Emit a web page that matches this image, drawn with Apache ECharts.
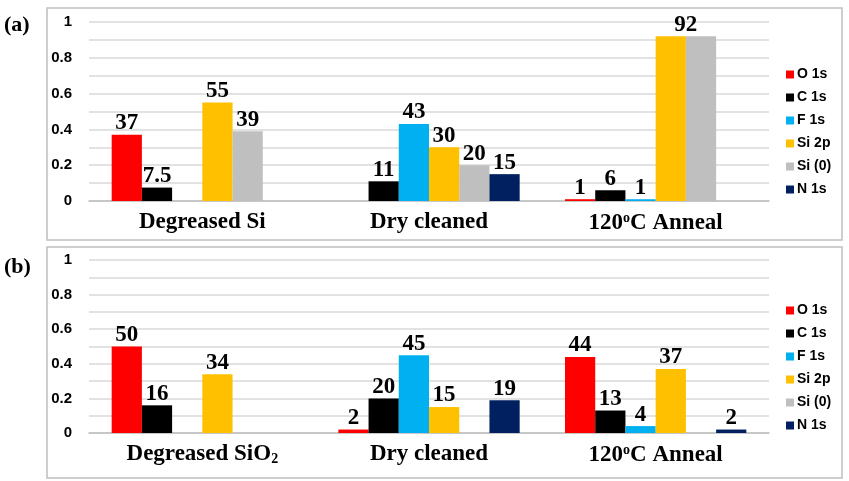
<!DOCTYPE html>
<html>
<head>
<meta charset="utf-8">
<script src="https://cdn.jsdelivr.net/npm/echarts@6/dist/echarts.min.js"></script>
<style>
  html, body { margin: 0; padding: 0; background: #fff; }
  #chart { width: 849px; height: 481px; }
</style>
</head>
<body>
<div id="chart"></div>
<script>
// categories for each panel
var catsA = ['Degreased Si', 'Dry cleaned', '120{sup|o}C Anneal'];
var catsB = ['Degreased SiO{sub|2}', 'Dry cleaned', '120{sup|o}C Anneal'];
var seriesNames = ['O 1s', 'C 1s', 'F 1s', 'Si 2p', 'Si (0)', 'N 1s'];
var seriesColors = ['#FF0000', '#000000', '#00B0F0', '#FFC000', '#BFBFBF', '#002060'];
var yTicks = [0, 0.2, 0.4, 0.6, 0.8, 1];

// atomic percent, one array per element (null = no bar)
var o1sA  = [37, null, 1];
var c1sA  = [7.5, 11, 6];
var f1sA  = [null, 43, 1];
var si2pA = [55, 30, 92];
var si0A  = [39, 20, 92];
var n1sA  = [null, 15, null];

var o1sB  = [50, 2, 44];
var c1sB  = [16, 20, 13];
var f1sB  = [null, 45, 4];
var si2pB = [34, 15, 37];
var si0B  = [null, null, null];
var n1sB  = [null, 19, 2];

var panelA = [o1sA, c1sA, f1sA, si2pA, si0A, n1sA];
var panelB = [o1sB, c1sB, f1sB, si2pB, si0B, n1sB];

var serif = '"Liberation Serif", "Times New Roman", serif';
var sans = '"Liberation Sans", Arial, sans-serif';

function makeSeries(panel, idx) {
    return panel.map(function (vals, i) {
        return {
            name: seriesNames[i],
            type: 'bar',
            xAxisIndex: idx,
            yAxisIndex: idx,
            barGap: '0%',
            barCategoryGap: '20%',
            itemStyle: { color: seriesColors[i] },
            data: vals.map(function (v, j) {
                if (v == null) return '-';
                var d = { value: v / 100 };
                // the two equal 92 bars share one label, centred between them
                if (idx === 0 && j === 2 && i === 3) d.label = { offset: [15, 0] };
                if (idx === 0 && j === 2 && i === 4) d.label = { show: false };
                return d;
            }),
            label: {
                show: true,
                position: 'top',
                distance: 0,
                fontFamily: serif,
                fontWeight: 'bold',
                fontSize: 23,
                color: '#000',
                formatter: function (p) { return String(Math.round(p.value * 1000) / 10); }
            }
        };
    });
}

var catRich = {
    sup: { fontFamily: serif, fontWeight: 'bold', fontSize: 14, color: '#000', padding: [0, 0, 10, 0] },
    sub: { fontFamily: serif, fontWeight: 'bold', fontSize: 14, color: '#000', padding: [9, 0, 0, 0] }
};

function xAxisOpt(idx, cats) {
    return {
        type: 'category',
        gridIndex: idx,
        data: cats,
        axisLine: { lineStyle: { color: '#BFBFBF', width: 1.5 } },
        axisTick: { show: false },
        axisLabel: {
            interval: 0,
            margin: 10,
            fontFamily: serif,
            fontWeight: 'bold',
            fontSize: 23,
            color: '#000',
            rich: catRich
        }
    };
}

function yAxisOpt(idx) {
    return {
        type: 'value',
        gridIndex: idx,
        min: 0,
        max: 1,
        interval: 0.1,
        axisLine: { show: false },
        axisTick: { show: false },
        splitLine: { lineStyle: { color: '#D9D9D9', width: 1.5 } },
        axisLabel: {
            margin: 17,
            fontFamily: sans,
            fontWeight: 'bold',
            fontSize: 15,
            color: '#000',
            formatter: function (v) {
                var r = Math.round(v * 10) / 10;
                return yTicks.indexOf(r) >= 0 ? String(r) : '';
            }
        }
    };
}

function legendOpt(top) {
    return {
        orient: 'vertical',
        left: 781,
        top: top,
        icon: 'rect',
        itemWidth: 8,
        itemHeight: 8,
        itemGap: 8,
        selectedMode: false,
        data: seriesNames,
        textStyle: { fontFamily: sans, fontWeight: 'bold', fontSize: 14, lineHeight: 15, color: '#000', padding: [0, 0, 0, -2] }
    };
}

var chart = echarts.init(document.getElementById('chart'));
chart.setOption({
    animation: false,
    backgroundColor: '#fff',
    graphic: [
        { type: 'rect', shape: { x: 47, y: 8, width: 795, height: 232 }, style: { fill: 'none', stroke: '#BFBFBF', lineWidth: 1.5 } },
        { type: 'rect', shape: { x: 47, y: 247, width: 795, height: 231 }, style: { fill: 'none', stroke: '#BFBFBF', lineWidth: 1.5 } },
        { type: 'text', left: 4, top: 14, style: { text: '(a)', font: 'bold 22px ' + serif, fill: '#000' } },
        { type: 'text', left: 4, top: 256, style: { text: '(b)', font: 'bold 22px ' + serif, fill: '#000' } }
    ],
    grid: [
        { left: 89, top: 22, width: 680, height: 179 },
        { left: 89, top: 260, width: 680, height: 173 }
    ],
    legend: [legendOpt(62), legendOpt(298)],
    xAxis: [xAxisOpt(0, catsA), xAxisOpt(1, catsB)],
    yAxis: [yAxisOpt(0), yAxisOpt(1)],
    series: makeSeries(panelA, 0).concat(makeSeries(panelB, 1))
});
</script>
</body>
</html>
